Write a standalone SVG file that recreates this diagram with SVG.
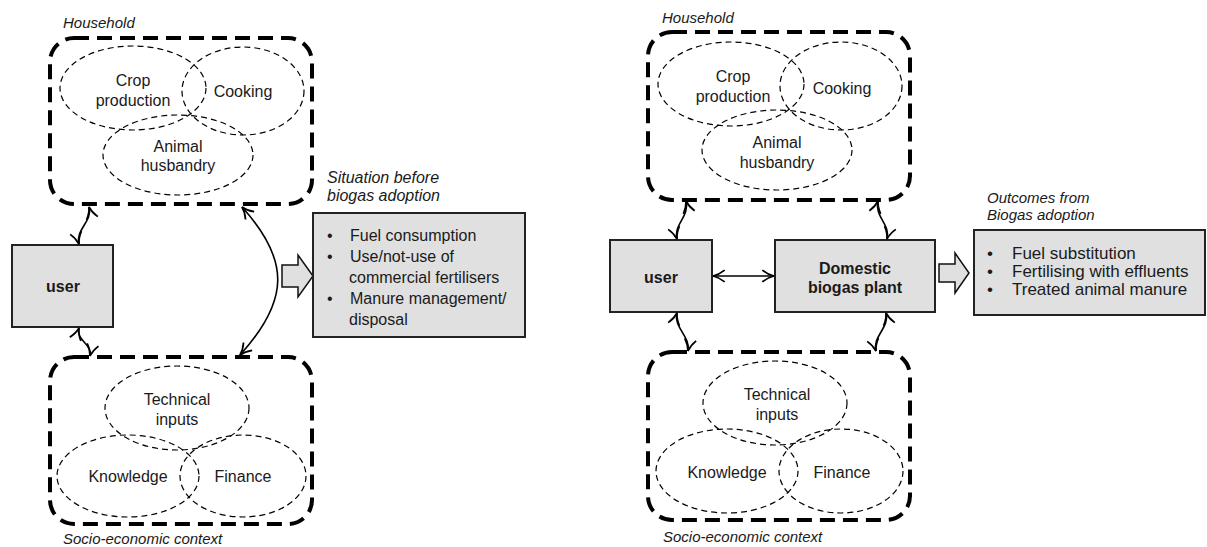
<svg xmlns="http://www.w3.org/2000/svg" width="1207" height="547" viewBox="0 0 1207 547">
<style>
  text { font-family: "Liberation Sans", Arial, sans-serif; fill: #1a1a1a; }
  .lbl { font-size: 16px; text-anchor: middle; }
  .ital { font-size: 15px; font-style: italic; }
  .bold { font-size: 16px; font-weight: bold; text-anchor: middle; }
  .group { fill: none; stroke: #000; stroke-width: 4; stroke-dasharray: 15 8; }
  .ell { fill: none; stroke: #000; stroke-width: 1.2; stroke-dasharray: 6 4; }
  .box { fill: #e0e0e0; stroke: #222; stroke-width: 2; }
  .blk { fill: #e0e0e0; stroke: #111; stroke-width: 1.5; stroke-linejoin: miter; }
  .conn { fill: none; stroke: #000; stroke-width: 1.6; marker-start: url(#ah); marker-end: url(#ah); }
  .bl { font-size: 16px; }
</style>
<defs>
  <marker id="ah" viewBox="0 0 12 12" refX="11" refY="6" markerWidth="14" markerHeight="14" markerUnits="userSpaceOnUse" orient="auto-start-reverse">
    <path d="M1,1 Q6,5 11,6 Q6,7 1,11" fill="none" stroke="#000" stroke-width="1.5"/>
  </marker>
</defs>

<!-- LEFT PANEL -->
<g id="household-left">
  <rect class="group" x="50" y="38" width="262" height="166" rx="24"/>
  <text class="ital" x="63" y="28">Household</text>
  <ellipse class="ell" cx="133" cy="88" rx="73" ry="42"/>
  <ellipse class="ell" cx="243" cy="91" rx="61" ry="44"/>
  <ellipse class="ell" cx="178" cy="155" rx="75" ry="40"/>
  <text class="lbl" x="133" y="86">Crop</text>
  <text class="lbl" x="133" y="106">production</text>
  <text class="lbl" x="243" y="97">Cooking</text>
  <text class="lbl" x="178" y="152">Animal</text>
  <text class="lbl" x="178" y="171">husbandry</text>
</g>

<g id="user-left">
  <rect class="box" x="12" y="245" width="101" height="82"/>
  <text class="bold" x="63" y="292">user</text>
</g>

<g id="socio-left">
  <rect class="group" x="50" y="357" width="262" height="167" rx="24"/>
  <text class="ital" x="63" y="544">Socio-economic context</text>
  <ellipse class="ell" cx="177" cy="408" rx="72" ry="42"/>
  <ellipse class="ell" cx="128" cy="476" rx="71" ry="41"/>
  <ellipse class="ell" cx="243" cy="476" rx="63" ry="41"/>
  <text class="lbl" x="177" y="405">Technical</text>
  <text class="lbl" x="177" y="425">inputs</text>
  <text class="lbl" x="128" y="482">Knowledge</text>
  <text class="lbl" x="243" y="482">Finance</text>
</g>

<g id="situation-left">
  <polygon class="blk" points="282,265 298,265 298,255 313,276 298,297 298,287 282,287"/>
  <text class="ital" style="font-size:16px" x="327" y="183">Situation before</text>
  <text class="ital" style="font-size:16px" x="327" y="201">biogas adoption</text>
  <rect class="box" x="313" y="213" width="212" height="124"/>
  <text class="bl" x="327" y="241">•</text>
  <text class="bl" x="350" y="241">Fuel consumption</text>
  <text class="bl" x="327" y="262">•</text>
  <text class="bl" x="350" y="262">Use/not-use of</text>
  <text class="bl" x="349" y="283">commercial fertilisers</text>
  <text class="bl" x="327" y="304">•</text>
  <text class="bl" x="350" y="304">Manure management/</text>
  <text class="bl" x="349" y="325">disposal</text>
</g>

<!-- RIGHT PANEL -->
<g id="household-right">
  <rect class="group" x="648" y="32" width="262" height="168" rx="24"/>
  <text class="ital" x="662" y="23">Household</text>
  <ellipse class="ell" cx="731" cy="84" rx="73" ry="42"/>
  <ellipse class="ell" cx="841" cy="86" rx="61" ry="44"/>
  <ellipse class="ell" cx="777" cy="150" rx="75" ry="40"/>
  <text class="lbl" x="733" y="82">Crop</text>
  <text class="lbl" x="733" y="102">production</text>
  <text class="lbl" x="842" y="94">Cooking</text>
  <text class="lbl" x="777" y="148">Animal</text>
  <text class="lbl" x="777" y="168">husbandry</text>
</g>

<g id="user-right">
  <rect class="box" x="610" y="240" width="102" height="72"/>
  <text class="bold" x="661" y="283">user</text>
</g>

<g id="plant-right">
  <rect class="box" x="775" y="240" width="160" height="72"/>
  <text class="bold" x="855" y="274">Domestic</text>
  <text class="bold" x="855" y="293">biogas plant</text>
</g>

<g id="socio-right">
  <rect class="group" x="648" y="352" width="262" height="168" rx="24"/>
  <text class="ital" x="663" y="542">Socio-economic context</text>
  <ellipse class="ell" cx="775" cy="403" rx="72" ry="42"/>
  <ellipse class="ell" cx="727" cy="471" rx="71" ry="42"/>
  <ellipse class="ell" cx="841" cy="471" rx="62" ry="42"/>
  <text class="lbl" x="777" y="400">Technical</text>
  <text class="lbl" x="777" y="420">inputs</text>
  <text class="lbl" x="727" y="478">Knowledge</text>
  <text class="lbl" x="842" y="478">Finance</text>
</g>

<g id="outcomes-right">
  <polygon class="blk" points="939,264 955,264 955,253 969,273 955,293 955,282 939,282"/>
  <text class="ital" x="987" y="203">Outcomes from</text>
  <text class="ital" x="987" y="220">Biogas adoption</text>
  <rect class="box" x="974" y="230" width="231" height="85"/>
  <text style="font-size:17px" x="987" y="259">•</text>
  <text style="font-size:17px" x="1012" y="259">Fuel substitution</text>
  <text style="font-size:17px" x="987" y="277">•</text>
  <text style="font-size:17px" x="1012" y="277">Fertilising with effluents</text>
  <text style="font-size:17px" x="987" y="295">•</text>
  <text style="font-size:17px" x="1012" y="295">Treated animal manure</text>
</g>

<g id="connectors">
  <path class="conn" d="M79,244 C75,230 93,221 89,207"/>
  <path class="conn" d="M79,328 C75,340 93,344 90,356"/>
  <path class="conn" d="M242,207 C290,260 290,300 240,355"/>
  <path class="conn" d="M677,239 C673,225 690,216 686,201"/>
  <path class="conn" d="M887,239 C891,225 874,216 878,201"/>
  <path class="conn" d="M677,313 C673,327 691,337 688,351"/>
  <path class="conn" d="M886,313 C890,327 872,337 876,351"/>
  <path class="conn" d="M713,276 L774,276"/>
</g>
</svg>
